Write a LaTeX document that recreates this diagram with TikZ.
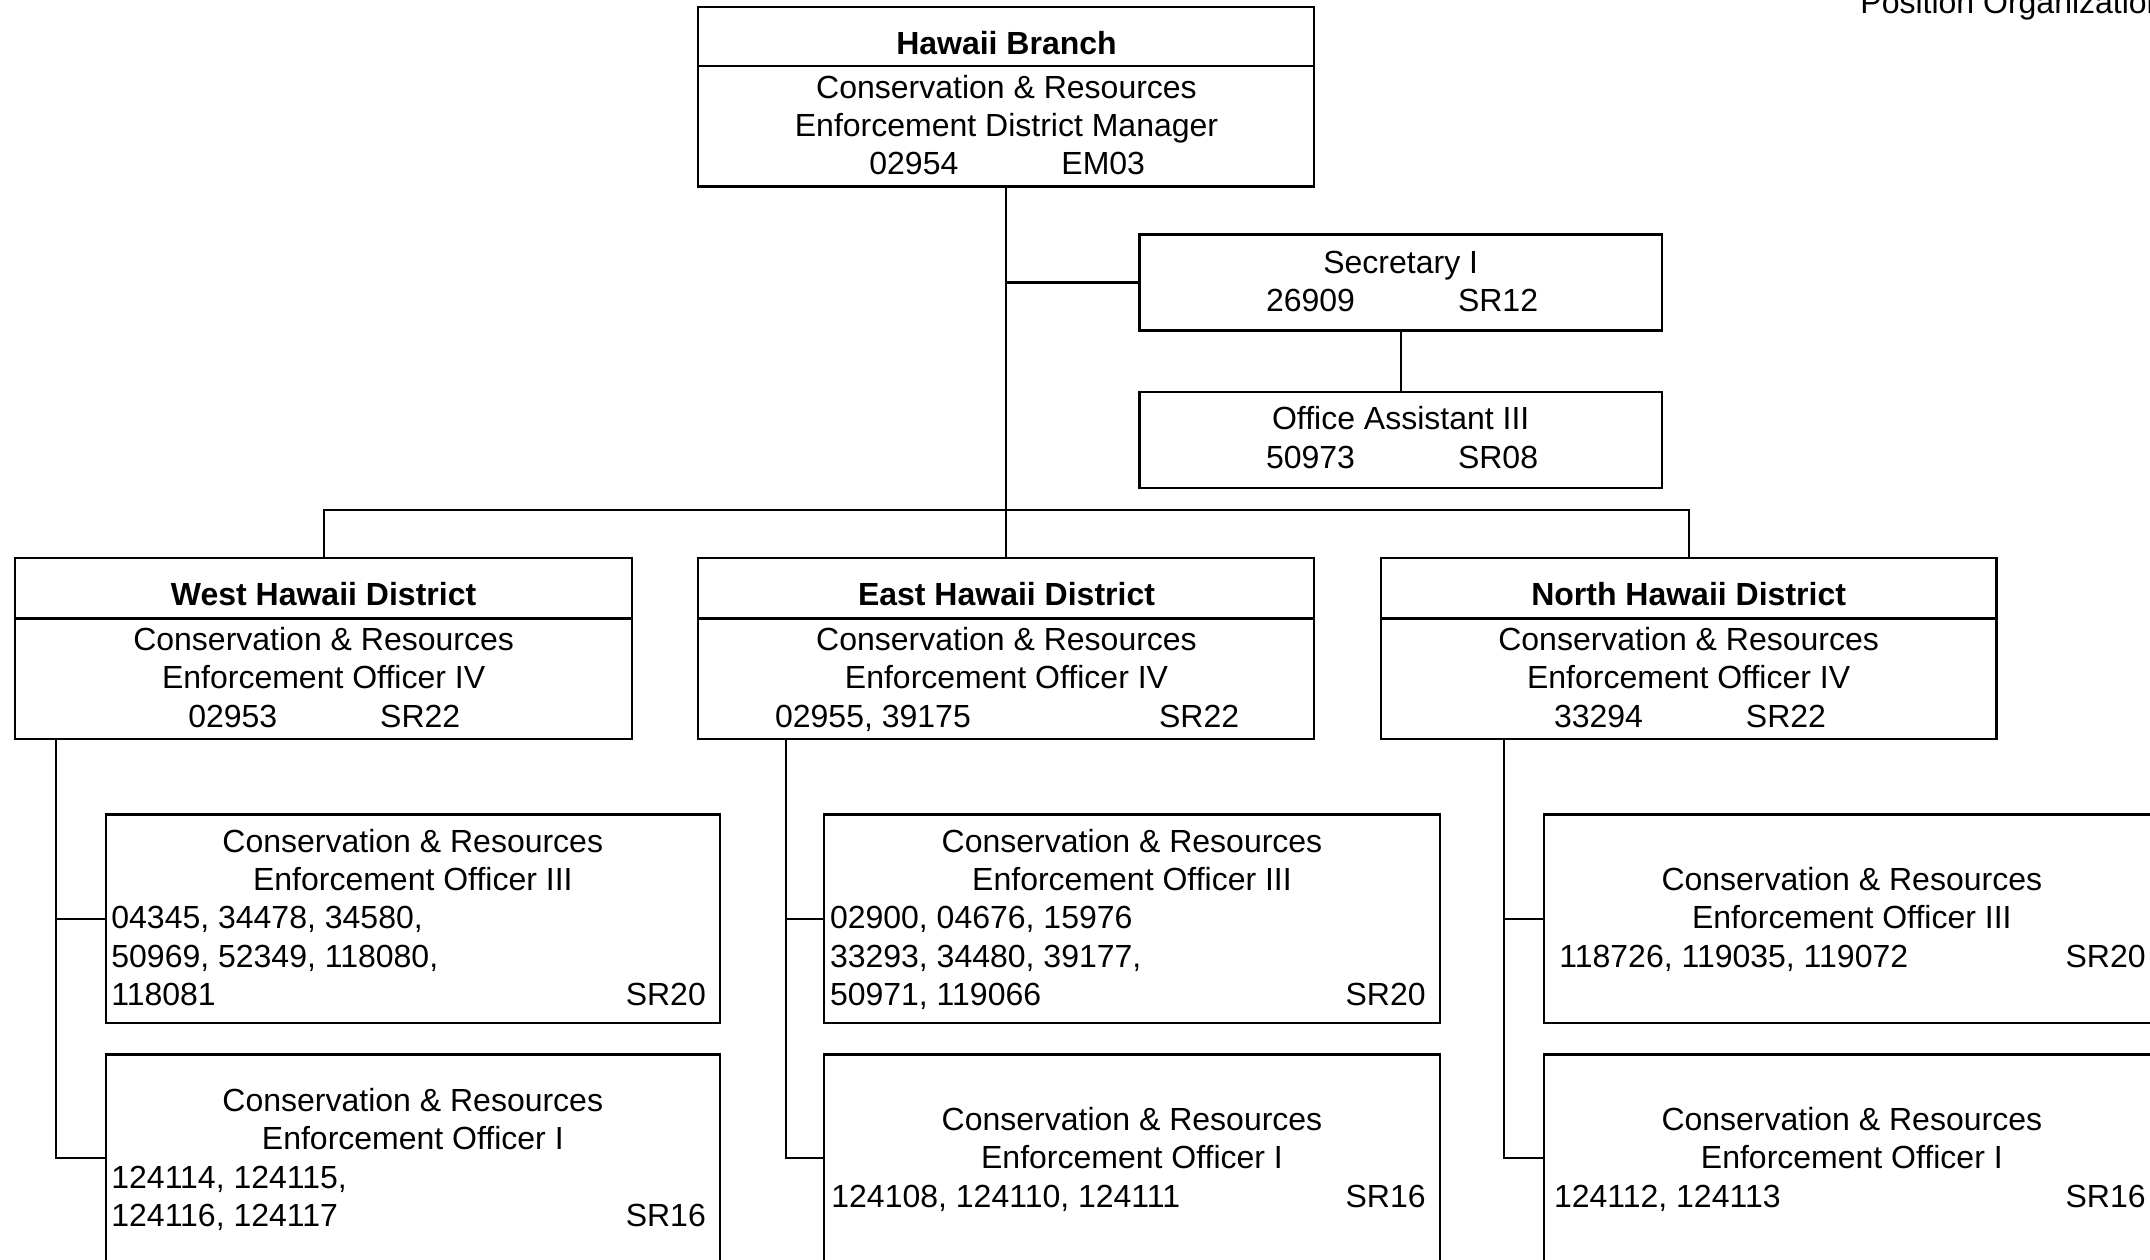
\documentclass[tikz,border=0pt]{standalone}
\usepackage{fontspec}
\setmainfont{Liberation Sans}
\usetikzlibrary{fit}
\begin{document}
\begin{tikzpicture}[x=0.5pt,y=-0.5pt,
  box/.style={draw, line width=1.1pt, inner sep=0pt, fit={#1}},
  conn/.style={draw, line width=1.1pt},
  txt/.style={inner sep=0pt, font=\fontsize{16}{19.2}\selectfont},
  txtc/.style={txt, anchor=base},
  txtl/.style={txt, anchor=base west},
  txtr/.style={txt, anchor=base east}]
\useasboundingbox[fill=white] (0,0) rectangle (2150,1259);

% title (cropped)
\node[txtl] (title) at (1860,13) {Position Organization};

% boxes
\node[box={(698,7) (1314,186.5)}] (hb) {};
\node[box={(1139.5,234.5) (1662,330.5)}] (sec) {};
\node[box={(1139.5,392.2) (1662,488.1)}] (oa) {};
\node[box={(15.1,558.1) (632.1,739.1)}] (wd) {};
\node[box={(698,558.1) (1314,739.1)}] (ed) {};
\node[box={(1380.8,558.1) (1996.5,739.1)}] (nd) {};
\node[box={(105.6,814.5) (720,1023)}] (w3) {};
\node[box={(105.6,1054.5) (720,1262)}] (w1) {};
\node[box={(824.1,814.5) (1439.8,1023)}] (e3) {};
\node[box={(824.1,1054.5) (1439.8,1262)}] (e1) {};
\node[box={(1544,814.5) (2159.6,1023)}] (n3) {};
\node[box={(1544,1054.5) (2159.6,1262)}] (n1) {};

% dividers
\coordinate (hbd) at (0,65.8);
\coordinate (dd) at (0,618.4);
\draw[conn] (hb.west |- hbd) -- (hb.east |- hbd);
\draw[conn] (wd.west |- dd) -- (wd.east |- dd);
\draw[conn] (ed.west |- dd) -- (ed.east |- dd);
\draw[conn] (nd.west |- dd) -- (nd.east |- dd);

% connectors
\coordinate (busy) at (0,510.1);
\draw[conn] (hb.south) -- (ed.north);
\draw[conn] (hb.south |- sec.west) -- (sec.west);
\draw[conn] (sec.south) -- (oa.north);
\draw[conn] (wd.north) -- (wd.north |- busy) -- (nd.north |- busy) -- (nd.north);
\coordinate (wv) at (56.2,0);
\coordinate (ev) at (785.7,0);
\coordinate (nv) at (1504.2,0);
\draw[conn] (wv |- wd.south) -- (wv |- w1.west) -- (w1.west);
\draw[conn] (wv |- w3.west) -- (w3.west);
\draw[conn] (ev |- ed.south) -- (ev |- e1.west) -- (e1.west);
\draw[conn] (ev |- e3.west) -- (e3.west);
\draw[conn] (nv |- nd.south) -- (nv |- n1.west) -- (n1.west);
\draw[conn] (nv |- n3.west) -- (n3.west);

% Hawaii Branch
\node[txtc, font=\fontsize{16}{19.2}\selectfont\bfseries] (hbt) at (1006.5,54) {Hawaii Branch};
\node[txtc] (hb1) at (1006.5,98) {Conservation \& Resources};
\node[txtc] (hb2) at (1006.5,136.3) {Enforcement District Manager};
\node[txtl] (hb3) at (869,174.7) {02954};
\node[txtl] (hb4) at (1061,174.7) {EM03};

% Secretary
\node[txtc] (sec1) at (1400.7,273.4) {Secretary I};
\node[txtl] (sec2) at (1265.6,311.8) {26909};
\node[txtl] (sec3) at (1457.6,311.8) {SR12};

% Office Assistant
\node[txtc] (oa1) at (1400.7,429.7) {Office Assistant III};
\node[txtl] (oa2) at (1265.6,468) {50973};
\node[txtl] (oa3) at (1457.6,468) {SR08};

% West district
\node[txtc, font=\fontsize{16}{19.2}\selectfont\bfseries] (wdt) at (323.6,605.2) {West Hawaii District};
\node[txtc] (wd1) at (323.6,650.5) {Conservation \& Resources};
\node[txtc] (wd2) at (323.6,688.9) {Enforcement Officer IV};
\node[txtl] (wd3) at (187.9,727.3) {02953};
\node[txtl] (wd4) at (379.8,727.3) {SR22};

% East district
\node[txtc, font=\fontsize{16}{19.2}\selectfont\bfseries] (edt) at (1006.5,605.2) {East Hawaii District};
\node[txtc] (ed1) at (1006.5,650.5) {Conservation \& Resources};
\node[txtc] (ed2) at (1006.5,688.9) {Enforcement Officer IV};
\node[txtl] (ed3) at (774.7,727.3) {02955, 39175};
\node[txtl] (ed4) at (1158.7,727.3) {SR22};

% North district
\node[txtc, font=\fontsize{16}{19.2}\selectfont\bfseries] (ndt) at (1688.6,605.2) {North Hawaii District};
\node[txtc] (nd1) at (1688.6,650.5) {Conservation \& Resources};
\node[txtc] (nd2) at (1688.6,688.9) {Enforcement Officer IV};
\node[txtl] (nd3) at (1553.6,727.3) {33294};
\node[txtl] (nd4) at (1745.5,727.3) {SR22};

% West III
\node[txtc] (w3a) at (412.8,852) {Conservation \& Resources};
\node[txtc] (w3b) at (412.8,890.4) {Enforcement Officer III};
\node[txtl] (w3c) at (111,928.8) {04345, 34478, 34580,};
\node[txtl] (w3d) at (111,967.2) {50969, 52349, 118080,};
\node[txtl] (w3e) at (111,1005.6) {118081};
\node[txtr] (w3f) at (706.2,1005.6) {SR20};

% West I
\node[txtc] (w1a) at (412.8,1111.2) {Conservation \& Resources};
\node[txtc] (w1b) at (412.8,1149.6) {Enforcement Officer I};
\node[txtl] (w1c) at (111,1188) {124114, 124115,};
\node[txtl] (w1d) at (111,1226.4) {124116, 124117};
\node[txtr] (w1e) at (706.2,1226.4) {SR16};

% East III
\node[txtc] (e3a) at (1132,852) {Conservation \& Resources};
\node[txtc] (e3b) at (1132,890.4) {Enforcement Officer III};
\node[txtl] (e3c) at (829.6,928.8) {02900, 04676, 15976};
\node[txtl] (e3d) at (829.6,967.2) {33293, 34480, 39177,};
\node[txtl] (e3e) at (829.6,1005.6) {50971, 119066};
\node[txtr] (e3f) at (1426,1005.6) {SR20};

% East I
\node[txtc] (e1a) at (1132,1130.4) {Conservation \& Resources};
\node[txtc] (e1b) at (1132,1168.8) {Enforcement Officer I};
\node[txtl] (e1c) at (831,1207.2) {124108, 124110, 124111};
\node[txtr] (e1d) at (1426,1207.2) {SR16};

% North III
\node[txtc] (n3a) at (1851.8,890.4) {Conservation \& Resources};
\node[txtc] (n3b) at (1851.8,928.8) {Enforcement Officer III};
\node[txtl] (n3c) at (1559,967.2) {118726, 119035, 119072};
\node[txtr] (n3d) at (2146,967.2) {SR20};

% North I
\node[txtc] (n1a) at (1851.8,1130.4) {Conservation \& Resources};
\node[txtc] (n1b) at (1851.8,1168.8) {Enforcement Officer I};
\node[txtl] (n1c) at (1553.6,1207.2) {124112, 124113};
\node[txtr] (n1d) at (2146,1207.2) {SR16};
\end{tikzpicture}
\end{document}
